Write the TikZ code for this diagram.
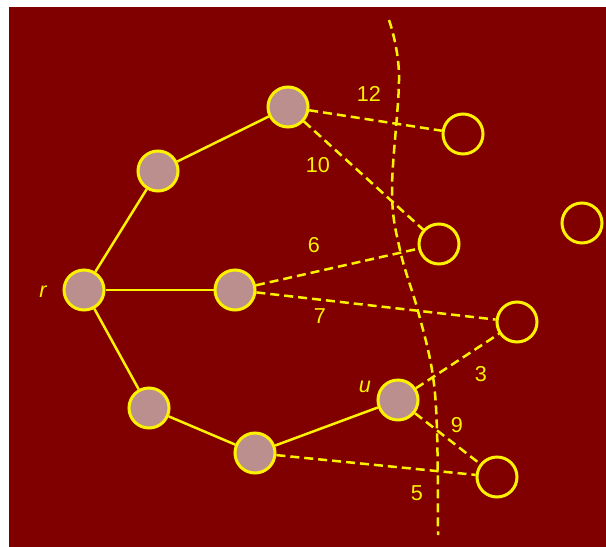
\documentclass[tikz,border=0pt]{standalone}
\usepackage{fontspec}
\setmainfont{Liberation Sans}

\definecolor{bgred}{HTML}{800000}
\definecolor{rose}{HTML}{BC8F8F}

\begin{document}
\begin{tikzpicture}[x=0.5pt,y=-0.5pt,vertex/.style={circle,draw=yellow,line width=1.5pt,minimum size=20pt,inner sep=0pt},tree/.style={vertex,fill=rose},edge/.style={draw=yellow,line width=1.25pt},cand/.style={edge,dash pattern=on 4.5pt off 2.5pt},weight/.style={text=yellow,font=\fontsize{10.8}{13}\selectfont},cut/.style={draw=yellow,line width=1.25pt,dash pattern=on 4.5pt off 2.5pt}]
\useasboundingbox (0,0) rectangle (606,547);
\fill[bgred] (9,7) rectangle (606,547);
% tree vertices
\node[tree] (r) at (84,290) {};
\node[tree] (a1) at (158,171) {};
\node[tree] (a2) at (288,107) {};
\node[tree] (b) at (235,290) {};
\node[tree] (c1) at (149,408) {};
\node[tree] (c2) at (255,453) {};
\node[tree] (u) at (398,400) {};
% vertices outside
\node[vertex] (e1) at (463,134) {};
\node[vertex] (e2) at (439,244) {};
\node[vertex] (e3) at (582,223) {};
\node[vertex] (e4) at (517,322) {};
\node[vertex] (e5) at (497,477) {};
\node[weight,font=\fontsize{10.8}{13}\selectfont\itshape] (lr) at (43,292) {r};
\node[weight,font=\fontsize{10.8}{13}\selectfont\itshape] (lu) at (365,387) {u};
% cut
\draw[cut] plot[smooth,tension=0.6] coordinates {(389,20) (399,75) (392,190) (400,250) (418,311) (432,370) (437,430) (438,535)};
\draw[edge] (r) -- (a1);
\draw[edge] (a1) -- (a2);
\draw[edge] (r) -- (b);
\draw[edge] (r) -- (c1);
\draw[edge] (c1) -- (c2);
\draw[edge] (c2) -- (u);
\draw[cand] (a2) -- (e1);
\draw[cand] (a2) -- (e2);
\draw[cand] (b) -- (e2);
\draw[cand] (b) -- (e4);
\draw[cand] (u) -- (e4);
\draw[cand] (u) -- (e5);
\draw[cand] (c2) -- (e5);
\node[weight] (w12) at (369,94) {12};
\node[weight] (w10) at (318,165) {10};
\node[weight] (w6) at (314,245) {6};
\node[weight] (w7) at (320,316) {7};
\node[weight] (w3) at (481,374) {3};
\node[weight] (w9) at (457,425) {9};
\node[weight] (w5) at (417,493) {5};
\end{tikzpicture}
\end{document}
